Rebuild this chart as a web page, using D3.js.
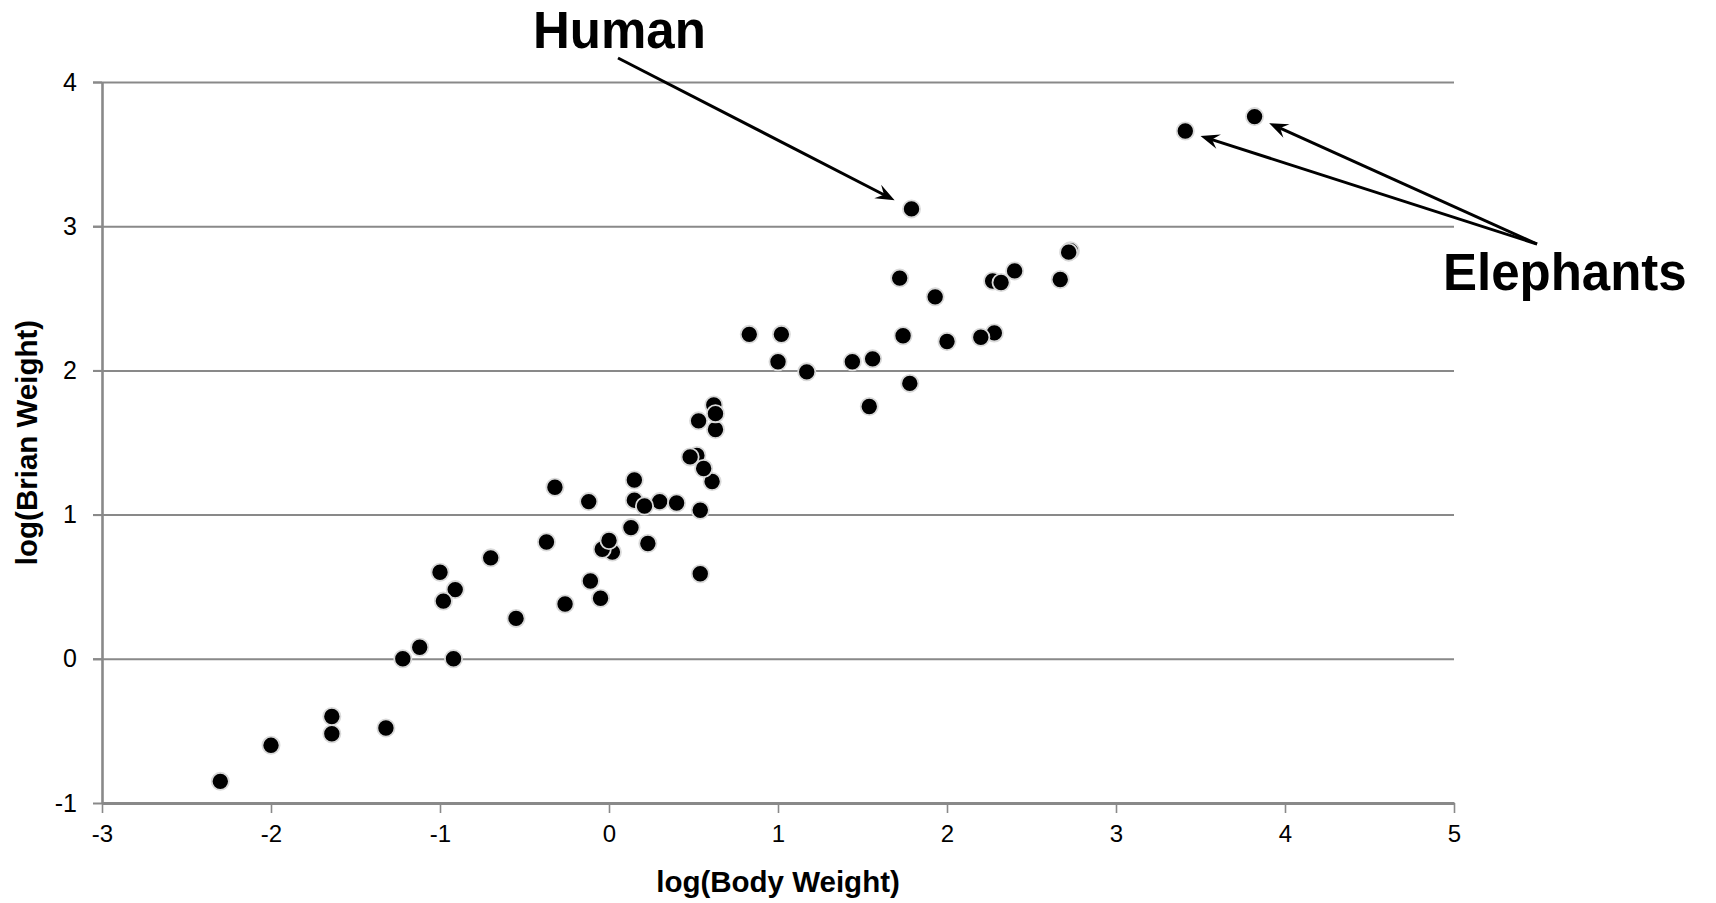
<!DOCTYPE html>
<html>
<head>
<meta charset="utf-8">
<script src="https://cdnjs.cloudflare.com/ajax/libs/d3/7.8.5/d3.min.js"></script>
<style>
  html, body { margin: 0; padding: 0; background: #ffffff; }
  svg { display: block; }
</style>
</head>
<body>
<svg id="chart" width="1716" height="903"></svg>
<script>
// log10 of body weight (kg) for each mammal
const logBody = [
  0.53, -0.32, 0.13, 2.67, 1.56, 1.44, 1.17, 0.02, 0.62, -0.37,
  -1.00, -0.04, 0.00, -2.30, -1.22, 0.54, 0.30, 0.23, 3.41, -1.64,
  2.27, 2.73, -0.11, 1.00, 0.52, -0.70, 0.15, 2.72, 2.32, 1.93,
  -0.12, 1.79, 3.82, 0.54, 0.83, 1.54, 0.61, -0.92, -1.64, -2.00,
  0.15, 2.40, 0.40, 1.74, 2.00, 1.72, 1.02, -0.26, 1.78, 0.56,
  0.63, -0.55, -1.12, -0.91, -1.32, 2.28, 0.48, 2.20, -0.05, 0.21,
  -0.98, 0.63
];
// log10 of brain weight (g), same order
const logBrain = [
  1.65, 1.19, 0.91, 2.63, 2.08, 2.06, 1.99, 0.74, 1.76, 0.81,
  0.60, 0.76, 0.82, -0.85, 0.00, 1.03, 1.09, 0.80, 3.66, -0.52,
  2.62, 2.83, 0.54, 2.06, 1.41, 0.70, 1.24, 2.82, 2.61, 2.51,
  1.09, 3.12, 3.76, 0.59, 2.25, 1.75, 1.23, 0.00, -0.40, -0.60,
  1.10, 2.69, 1.08, 2.24, 2.20, 2.64, 2.25, 0.38, 1.91, 1.32,
  1.59, 0.28, 0.08, 0.48, -0.48, 2.26, 1.40, 2.23, 0.42, 1.06,
  0.40, 1.70
];

const xTicks = [-3, -2, -1, 0, 1, 2, 3, 4, 5];
const yTicks = [-1, 0, 1, 2, 3, 4];
const xTitle = "log(Body Weight)";
const yTitle = "log(Brian Weight)";

// callouts: label text, label position, and indices of the points they point to
const callouts = [
  { text: "Human", tx: 533, ty: 48, from: [618, 58], targets: [31], gap: 19 },
  { text: "Elephants", tx: 1443, ty: 290, from: [1537, 244], targets: [18, 32], gap: 16 }
];

const svg = d3.select("#chart");
const gridColor = "#898989";
const fontFamily = "'Liberation Sans', Arial, sans-serif";
const fmt = d => String(d);

const x = d3.scaleLinear().domain([-3, 5]).range([102, 1454]);
const y = d3.scaleLinear().domain([-1, 4]).range([803, 82]);

// horizontal gridlines (including the little tick stub to the left of the axis)
svg.append("g")
  .attr("transform", `translate(${x(-3)},0)`)
  .call(d3.axisLeft(y).tickValues(yTicks.filter(v => v > -1)).tickSize(9).tickFormat(""))
  .call(g => g.select(".domain").remove())
  .call(g => g.selectAll(".tick line")
    .attr("x2", x(5) - x(-3))
    .attr("x1", -9)
    .attr("stroke", gridColor)
    .attr("stroke-width", 2));

// y axis with labels
const yAxis = svg.append("g")
  .attr("transform", `translate(${x(-3)},0)`)
  .call(d3.axisLeft(y).tickValues(yTicks).tickSize(9).tickSizeOuter(0).tickPadding(16).tickFormat(fmt));
yAxis.select(".domain").attr("stroke", gridColor).attr("stroke-width", 2.6);
yAxis.selectAll(".tick line").attr("stroke", gridColor).attr("stroke-width", 2);
yAxis.selectAll(".tick text")
  .attr("fill", "#000")
  .style("font-family", fontFamily)
  .style("font-size", "25px");

// x axis along y = -1
const xAxis = svg.append("g")
  .attr("transform", `translate(0,${y(-1)})`)
  .call(d3.axisBottom(x).tickValues(xTicks).tickSize(10).tickSizeOuter(0).tickPadding(12).tickFormat(fmt));
xAxis.select(".domain").attr("stroke", gridColor).attr("stroke-width", 3);
xAxis.selectAll(".tick line").attr("stroke", gridColor).attr("stroke-width", 1.6);
xAxis.selectAll(".tick text")
  .attr("fill", "#000")
  .style("font-family", fontFamily)
  .style("font-size", "24px");

// axis titles
svg.append("text")
  .attr("x", (x(-3) + x(5)) / 2)
  .attr("y", 892)
  .attr("text-anchor", "middle")
  .style("font-family", fontFamily)
  .style("font-weight", "bold")
  .style("font-size", "29.5px")
  .text(xTitle);

svg.append("text")
  .attr("transform", `translate(37,${(y(-1) + y(4)) / 2}) rotate(-90)`)
  .attr("text-anchor", "middle")
  .style("font-family", fontFamily)
  .style("font-weight", "bold")
  .style("font-size", "29.5px")
  .text(yTitle);

// scatter points
const points = d3.zip(logBody, logBrain);
svg.append("g")
  .selectAll("circle")
  .data(points)
  .join("circle")
  .attr("cx", d => x(d[0]))
  .attr("cy", d => y(d[1]))
  .attr("r", 8.6)
  .attr("fill", "#000")
  .attr("stroke", "#d9d9d9")
  .attr("stroke-width", 1.8);

// callout labels and arrows
const ann = svg.append("g");
callouts.forEach(c => {
  ann.append("text")
    .attr("x", c.tx)
    .attr("y", c.ty)
    .style("font-family", fontFamily)
    .style("font-weight", "bold")
    .style("font-size", "51px")
    .attr("fill", "#000")
    .text(c.text);

  c.targets.forEach(i => {
    const px = x(points[i][0]), py = y(points[i][1]);
    const dx = px - c.from[0], dy = py - c.from[1];
    const len = Math.hypot(dx, dy);
    const ux = dx / len, uy = dy / len;
    const tipX = px - ux * c.gap, tipY = py - uy * c.gap;
    const headLen = 19, headHalf = 7.5, notch = 12;
    // shaft stops inside the head so the tip stays sharp
    ann.append("line")
      .attr("x1", c.from[0]).attr("y1", c.from[1])
      .attr("x2", tipX - ux * notch).attr("y2", tipY - uy * notch)
      .attr("stroke", "#000")
      .attr("stroke-width", 3);
    const nx = -uy, ny = ux;
    const bx = tipX - ux * headLen, by = tipY - uy * headLen;
    const mx = tipX - ux * notch, my = tipY - uy * notch;
    ann.append("path")
      .attr("d", `M${tipX},${tipY} L${bx + nx * headHalf},${by + ny * headHalf} L${mx},${my} L${bx - nx * headHalf},${by - ny * headHalf} Z`)
      .attr("fill", "#000");
  });
});
</script>
</body>
</html>
